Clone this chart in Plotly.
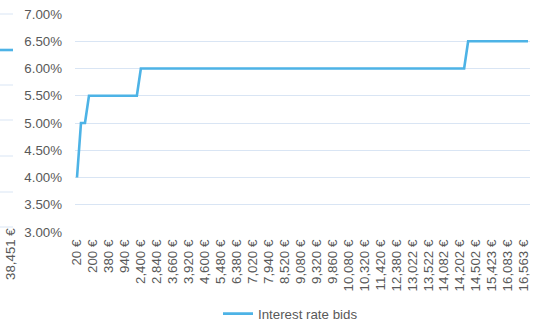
import plotly.graph_objects as go

# cumulative bid amounts shown as category labels (every 4th category is labelled)
bid_labels = [
    "20 €", "200 €", "380 €", "940 €", "2,400 €", "2,840 €", "3,660 €", "3,920 €",
    "4,600 €", "5,480 €", "6,380 €", "7,020 €", "7,940 €", "8,520 €", "9,080 €",
    "9,320 €", "9,860 €", "10,080 €", "10,320 €", "11,420 €", "12,380 €", "13,022 €",
    "13,522 €", "14,082 €", "14,202 €", "14,502 €", "15,423 €", "16,083 €", "16,563 €",
]
label_every = 4
n_categories = 114

# break points of the step line (category index, rate in %)
bid_index = [0, 1, 2, 3, 15, 16, 97, 98, 113]
rates = [4.00, 5.00, 5.00, 5.50, 5.50, 6.00, 6.00, 6.50, 6.50]

# neighbouring (cropped) chart on the left edge
left_label = "38,451 €"

W, H = 537, 324
L, R, T, B = 75, 7, 14, 92
FONT = dict(family="Liberation Sans, Arial, sans-serif", size=13.3, color="#595959")
GRID = "#D9E5F4"
LINE = "#4DB3E6"


def px_x(x):
    return (x - L) / (W - L - R)


def px_y(y):
    return (H - B - y) / (H - T - B)


fig = go.Figure()
fig.add_trace(go.Scatter(
    x=bid_index, y=rates, mode="lines", name="Interest rate bids",
    line=dict(color=LINE, width=2.6),
))

shapes = []
for y in [14, 85, 120, 156, 192, 227]:
    shapes.append(dict(type="line", xref="paper", yref="paper",
                       x0=px_x(0), x1=px_x(13), y0=px_y(y), y1=px_y(y),
                       line=dict(color=GRID, width=1)))
shapes.append(dict(type="line", xref="paper", yref="paper",
                   x0=px_x(0), x1=px_x(13), y0=px_y(50), y1=px_y(50),
                   line=dict(color=LINE, width=2.6)))

fig.update_layout(
    width=W, height=H,
    margin=dict(l=L, r=R, t=T, b=B, autoexpand=False),
    paper_bgcolor="white", plot_bgcolor="white",
    font=FONT,
    showlegend=True,
    legend=dict(orientation="h", x=px_x(218), xanchor="left",
                y=px_y(314), yanchor="middle", font=FONT),
    shapes=shapes,
    annotations=[dict(text=left_label, xref="paper", yref="paper",
                      x=px_x(10), y=px_y(254), xanchor="center", yanchor="middle",
                      textangle=-90, showarrow=False, font=FONT)],
)
fig.update_xaxes(
    range=[-0.5, n_categories - 0.5],
    tickvals=[i * label_every for i in range(len(bid_labels))],
    ticktext=bid_labels, tickangle=-90, automargin=False,
    showgrid=False, zeroline=False, showline=False, ticks="",
    ticklabelstandoff=4,
)
fig.update_yaxes(
    range=[3, 7], dtick=0.5, tickformat=".2f", ticksuffix="%",
    showgrid=True, gridcolor=GRID, gridwidth=1, zeroline=False,
    showline=False, ticks="", ticklabelstandoff=12, automargin=False,
)

fig.write_html("out.html", config={"displayModeBar": False},
               post_script="document.body.style.margin='0';")
